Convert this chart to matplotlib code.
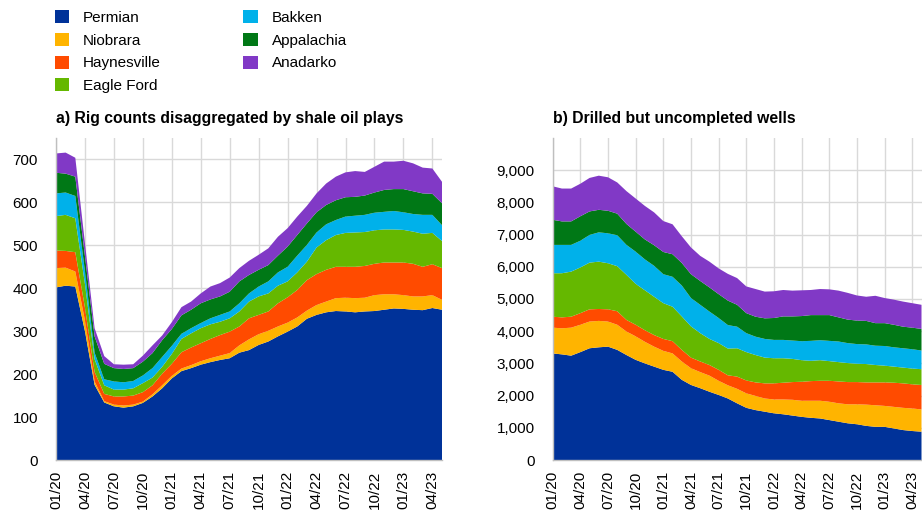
"""Shale plays: rig counts and drilled-but-uncompleted wells, stacked by play."""
import matplotlib

matplotlib.use("Agg")
import matplotlib.pyplot as plt
from matplotlib.patches import Patch
from matplotlib.ticker import FuncFormatter
import pandas as pd

plt.rcParams["font.family"] = ["Liberation Sans", "DejaVu Sans"]

months = pd.date_range("2020-01-01", "2023-05-01", freq="MS")
tick_labels = [m.strftime("%m/%y") for m in months]

plays = ["Permian", "Niobrara", "Haynesville", "Eagle Ford",
         "Bakken", "Appalachia", "Anadarko"]
colors = ["#003299", "#FFB400", "#FF4B00", "#65B800",
          "#00B1EA", "#007816", "#8139C6"]

# a) rig counts
rig_permian = [402, 406, 404, 300, 175, 134, 125, 122, 125, 133, 148, 167, 190, 207,
               214, 222, 228, 233, 237, 250, 256, 268, 276, 288, 299, 311, 329, 338,
               344, 347, 346, 344, 346, 347, 350, 353, 352, 350, 349, 354, 350]
rig_niobrara = [45, 42, 35, 25, 8, 3, 4, 5, 4, 3, 5, 7, 6, 6, 7, 8, 9, 10, 12, 17, 25,
                25, 25, 23, 21, 21, 19, 23, 25, 30, 32, 33, 32, 37, 36, 33, 32, 31,
                32, 30, 23]
rig_haynesville = [41, 39, 45, 30, 22, 17, 19, 21, 21, 22, 21, 27, 28, 38, 41, 42, 45,
                   48, 50, 44, 49, 45, 45, 54, 59, 64, 71, 72, 74, 73, 72, 73, 74, 73,
                   74, 74, 76, 76, 69, 72, 74]
rig_eagleford = [80, 84, 79, 55, 30, 20, 16, 16, 17, 21, 18, 16, 23, 31, 33, 35, 34,
                 31, 31, 35, 39, 43, 42, 41, 37, 41, 43, 62, 69, 74, 79, 80, 79, 78,
                 77, 77, 76, 75, 77, 73, 63]
rig_bakken = [53, 52, 52, 30, 15, 14, 19, 17, 17, 18, 22, 23, 19, 12, 12, 12, 14, 16,
              16, 19, 19, 23, 28, 31, 34, 39, 39, 35, 37, 35, 38, 39, 40, 41, 41, 43,
              41, 41, 44, 42, 37]
rig_appalachia = [48, 44, 45, 35, 38, 36, 31, 31, 30, 32, 35, 39, 39, 43, 43, 46, 44,
                  43, 46, 51, 43, 39, 38, 39, 47, 48, 50, 47, 45, 46, 45, 44, 45, 47,
                  51, 51, 54, 53, 50, 49, 51]
rig_anadarko = [45, 49, 44, 30, 19, 18, 9, 10, 9, 14, 18, 11, 16, 19, 19, 23, 30, 31,
                33, 31, 33, 35, 39, 44, 43, 43, 41, 44, 50, 55, 58, 60, 55, 60, 66, 64,
                66, 65, 60, 59, 50]

# b) drilled but uncompleted wells
duc_permian = [3310, 3280, 3240, 3350, 3470, 3500, 3520, 3420, 3260, 3110, 3000, 2900,
               2800, 2740, 2490, 2330, 2230, 2120, 2020, 1910, 1760, 1620, 1550, 1500,
               1450, 1420, 1380, 1340, 1310, 1290, 1240, 1190, 1140, 1110, 1060, 1030,
               1030, 980, 930, 900, 880]
duc_niobrara = [800, 810, 870, 850, 830, 820, 780, 780, 730, 730, 670, 620, 590, 570,
                570, 520, 500, 500, 440, 410, 450, 450, 440, 410, 430, 460, 490, 500,
                530, 550, 570, 570, 590, 620, 660, 670, 650, 670, 690, 700, 690]
duc_haynesville = [340, 340, 340, 360, 380, 370, 380, 420, 360, 360, 360, 360, 370,
                   380, 360, 330, 330, 330, 340, 310, 380, 400, 420, 470, 500, 520,
                   550, 590, 610, 620, 650, 680, 690, 690, 690, 710, 730, 750, 760,
                   750, 760]
duc_eagleford = [1350, 1370, 1400, 1420, 1450, 1470, 1430, 1400, 1400, 1270, 1240,
                 1190, 1110, 1070, 1040, 970, 880, 810, 830, 830, 880, 880, 850, 800,
                 780, 760, 720, 670, 630, 640, 610, 600, 590, 570, 570, 540, 520, 500,
                 490, 490, 490]
duc_bakken = [880, 880, 830, 830, 860, 910, 930, 960, 930, 1000, 960, 960, 900, 930,
              960, 880, 880, 850, 780, 730, 670, 590, 570, 580, 570, 570, 570, 590,
              620, 620, 630, 640, 620, 610, 610, 600, 610, 600, 600, 600, 580]
duc_appalachia = [780, 730, 730, 760, 730, 700, 700, 670, 650, 620, 620, 640, 690,
                  700, 700, 740, 740, 750, 740, 760, 680, 620, 620, 640, 680, 730,
                  750, 780, 800, 780, 800, 750, 730, 730, 730, 700, 710, 700, 670,
                  670, 670]
duc_anadarko = [1040, 1020, 1020, 1010, 1040, 1060, 1040, 970, 1020, 1030, 1040, 1020,
                960, 930, 830, 830, 780, 800, 800, 830, 830, 830, 860, 830, 830, 820,
                800, 800, 780, 810, 800, 830, 830, 780, 750, 850, 780, 780, 780, 760,
                750]

rigs = [rig_permian, rig_niobrara, rig_haynesville, rig_eagleford,
        rig_bakken, rig_appalachia, rig_anadarko]
ducs = [duc_permian, duc_niobrara, duc_haynesville, duc_eagleford,
        duc_bakken, duc_appalachia, duc_anadarko]

W, H = 922, 516
fig = plt.figure(figsize=(W / 100, H / 100), dpi=100)
ax1 = fig.add_axes([56 / W, 56 / H, (442 - 56) / W, 322 / H])
ax2 = fig.add_axes([552.7 / W, 56 / H, (921.5 - 552.7) / W, 322 / H])

x = list(range(len(months)))


def draw(ax, series, ymax, yticks, fmt):
    ax.stackplot(x, *series, colors=colors, linewidth=0)
    ax.set_xlim(0, len(months) - 1)
    ax.set_ylim(0, ymax)
    ax.set_yticks(yticks)
    ax.yaxis.set_major_formatter(FuncFormatter(fmt))
    ax.set_xticks(x[::3])
    ax.set_xticklabels(tick_labels[::3], rotation=90)
    ax.grid(color="#d9d9d9", linewidth=1)
    ax.set_axisbelow(True)
    ax.tick_params(axis="both", length=0, labelsize=11, colors="#000000")
    ax.tick_params(axis="y", pad=13)
    ax.tick_params(axis="x", pad=8)
    for side in ("top", "right"):
        ax.spines[side].set_visible(False)
    for side in ("left", "bottom"):
        ax.spines[side].set_color("#bfbfbf")
        ax.spines[side].set_linewidth(1)


draw(ax1, rigs, 750, range(0, 701, 100), lambda v, _: f"{v:.0f}")
draw(ax2, ducs, 10000, range(0, 9001, 1000), lambda v, _: f"{v:,.0f}")

fig.text(56 / W, 1 - 118 / H, "a) Rig counts disaggregated by shale oil plays",
         fontsize=11.3, fontweight="bold", va="center", ha="left")
fig.text(552.7 / W, 1 - 118 / H, "b) Drilled but uncompleted wells",
         fontsize=11.3, fontweight="bold", va="center", ha="left")

handles = [Patch(facecolor=c, edgecolor="none", label=p) for p, c in zip(plays, colors)]
fig.legend(handles=handles, ncol=2, loc="upper left",
           bbox_to_anchor=(55 / W, 1 - 10.5 / H), frameon=False,
           fontsize=11, borderpad=0, borderaxespad=0,
           handlelength=0.92, handleheight=0.92, handletextpad=0.92,
           labelspacing=0.52, columnspacing=5.4)

fig.savefig("out.png", dpi=100, facecolor="white")
plt.close(fig)
